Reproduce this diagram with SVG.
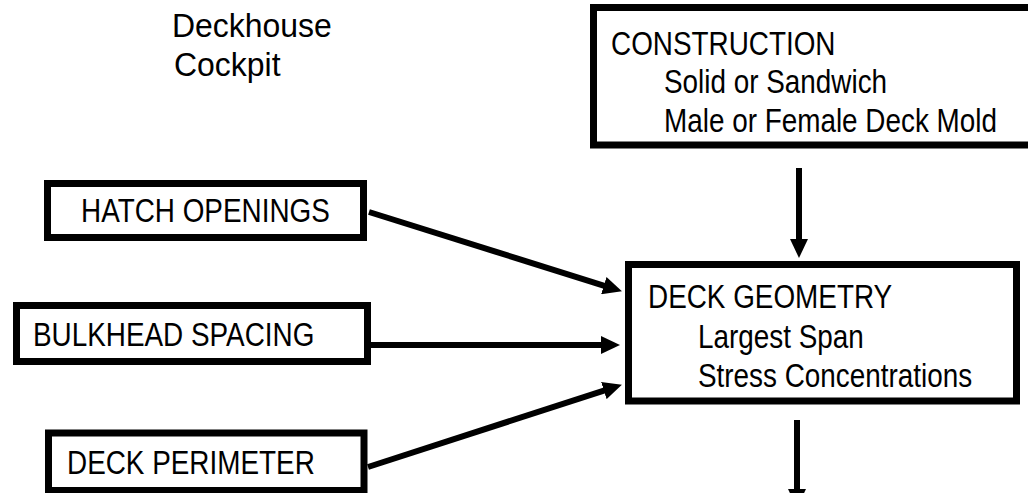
<svg xmlns="http://www.w3.org/2000/svg" width="1028" height="493" viewBox="0 0 1028 493">
  <style>
    .box { fill: #ffffff; stroke: #000000; stroke-width: 7; }
    .lbl { font-family: "Liberation Sans", Arial, sans-serif; font-size: 34px; fill: #000000; }
    .wire { stroke: #000000; stroke-width: 6; fill: none; }
  </style>
  <defs>
    <marker id="head" viewBox="0 0 19 18" markerWidth="19" markerHeight="18" refX="9" refY="9" markerUnits="userSpaceOnUse" orient="auto">
      <path d="M0,0 L19,9 L0,18 z" fill="#000000"/>
    </marker>
  </defs>
  <rect width="1028" height="493" fill="#ffffff"/>

  <!-- labels are set in a condensed face: Liberation Sans squeezed horizontally -->

  <g id="notes">
    <text class="lbl" transform="translate(172,37) scale(0.94,1)">Deckhouse</text>
    <text class="lbl" transform="translate(174,76) scale(0.94,1)">Cockpit</text>
  </g>

  <g id="construction">
    <rect class="box" x="593.5" y="7.5" width="445" height="137.5"/>
    <text class="lbl" transform="translate(611,55) scale(0.82,1)">CONSTRUCTION</text>
    <text class="lbl" transform="translate(664,93) scale(0.82,1)">Solid or Sandwich</text>
    <text class="lbl" transform="translate(664,132) scale(0.82,1)">Male or Female Deck Mold</text>
  </g>

  <g id="hatch-openings">
    <rect class="box" x="47.5" y="183.5" width="316" height="54"/>
    <text class="lbl" transform="translate(81,222) scale(0.82,1)">HATCH OPENINGS</text>
  </g>

  <g id="bulkhead-spacing">
    <rect class="box" x="16.5" y="305.5" width="351" height="56"/>
    <text class="lbl" transform="translate(33,346) scale(0.82,1)">BULKHEAD SPACING</text>
  </g>

  <g id="deck-perimeter">
    <rect class="box" x="48.5" y="433" width="315.5" height="57.5"/>
    <text class="lbl" transform="translate(67,474) scale(0.82,1)">DECK PERIMETER</text>
  </g>

  <g id="deck-geometry">
    <rect class="box" x="628.5" y="264.5" width="388" height="136.5"/>
    <text class="lbl" transform="translate(648,308) scale(0.82,1)">DECK GEOMETRY</text>
    <text class="lbl" transform="translate(698,348) scale(0.82,1)">Largest Span</text>
    <text class="lbl" transform="translate(698,387) scale(0.82,1)">Stress Concentrations</text>
  </g>

  <g id="connectors">
    <line class="wire" x1="369" y1="212" x2="612.4" y2="288.3" marker-end="url(#head)"/>
    <line class="wire" x1="371" y1="345" x2="610" y2="345" marker-end="url(#head)"/>
    <line class="wire" x1="368" y1="467" x2="612.4" y2="387.8" marker-end="url(#head)"/>
    <line class="wire" x1="799" y1="168" x2="799" y2="248" marker-end="url(#head)"/>
    <line class="wire" x1="797" y1="420" x2="797" y2="493"/>
    <polygon points="788,489 806,489 797,508" fill="#000000"/>
  </g>
</svg>
